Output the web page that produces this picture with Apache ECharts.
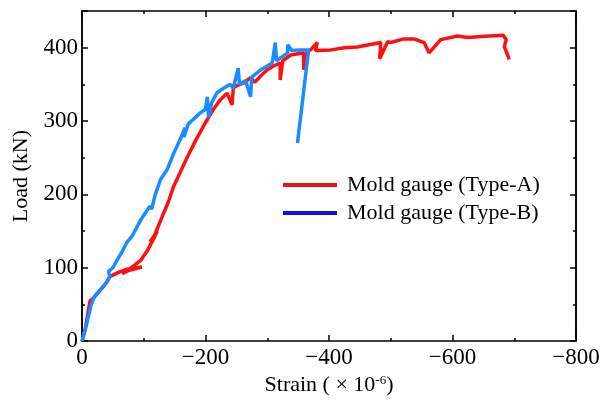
<!DOCTYPE html>
<html>
<head>
<meta charset="utf-8">
<script src="https://cdn.jsdelivr.net/npm/echarts@6/dist/echarts.min.js"></script>
<style>
  html, body { margin: 0; padding: 0; background: #fff; }
  #chart { width: 608px; height: 401px; }
</style>
</head>
<body>
<div id="chart"></div>
<script>
// Mold gauge (Type-A): strain (x10^-6) and load (kN)
const strainA = [0, -5, -10, -13, -18, -21, -30, -40, -45, -50, -60, -73, -97, -75, -65, -80, -95, -107,
  -115, -122, -110, -118, -130, -140, -148, -159, -170, -185, -200, -212, -224, -235, -243, -245, -250,
  -262, -273, -280, -290, -300, -310, -321, -321, -325, -338, -359, -359, -365, -370, -381, -378, -403,
  -425, -446, -465, -484, -482, -495, -500, -521, -538, -554, -562, -581, -608, -625, -641, -660, -682,
  -687, -684, -692];
const loadA = [0, 15, 40, 55, 58, 61, 70, 80, 88, 90, 94, 98, 101, 96, 92, 100, 110, 125,
  138, 150, 135, 145, 170, 190, 210, 230, 250, 275, 298, 315, 329, 338, 322, 345, 348,
  352, 359, 353, 362, 370, 375, 379, 356, 382, 390, 393, 370, 395, 397, 407, 396, 397,
  400, 401, 404, 407, 385, 408, 407, 412, 412, 407, 393, 411, 416, 414, 415, 416, 417,
  411, 401, 384];

// Mold gauge (Type-B)
const strainB = [0, -8, -15, -21, -30, -40, -45, -43, -50, -58, -65, -73, -81, -95, -110, -113, -118,
  -127, -138, -148, -159, -163, -167, -165, -172, -180, -190, -200, -203, -205, -210, -219, -230, -240,
  -245, -253, -255, -265, -273, -275, -290, -308, -313, -315, -333, -333, -340, -354, -367, -370, -349];
const loadB = [0, 25, 50, 62, 70, 80, 88, 95, 100, 112, 122, 135, 143, 165, 184, 180, 198,
  220, 234, 255, 275, 283, 291, 278, 296, 302, 310, 316, 333, 305, 325, 339, 345, 350,
  345, 372, 350, 355, 333, 360, 370, 379, 407, 382, 393, 404, 396, 397, 397, 395, 270];

const xTicks = [0, -200, -400, -600, -800];
const yTicks = [0, 100, 200, 300, 400];

const seriesNames = ['Mold gauge (Type-A)', 'Mold gauge (Type-B)'];

const font = 'Liberation Serif';

function zip(xs, ys) {
  return xs.map((x, i) => [x, ys[i]]);
}

const chart = echarts.init(document.getElementById('chart'));

const lineBlack = { show: true, onZero: false, lineStyle: { color: '#000', width: 1.5 } };
const tickStyle = { color: '#000', width: 1.5 };

// x axis: 0 on the left, -800 on the right
const xBase = {
  type: 'value',
  inverse: true,
  min: -800,
  max: 0,
  interval: 200,
  axisLine: lineBlack,
  splitLine: { show: false },
  axisTick: { show: true, inside: true, length: 6, lineStyle: tickStyle },
  minorTick: { show: true, splitNumber: 2, length: 3, lineStyle: tickStyle },
};

const yBase = {
  type: 'value',
  min: 0,
  max: 450,
  axisLine: lineBlack,
  splitLine: { show: false },
};

const option = {
  animation: false,
  grid: { left: 82, right: 32, top: 11, bottom: 58 },
  legend: {
    orient: 'vertical',
    left: 278,
    top: 169,
    itemWidth: 54,
    itemHeight: 4,
    itemGap: 6,
    textStyle: { fontFamily: font, fontSize: 22, color: '#000', padding: [0, 0, 0, 5] },
    data: [
      { name: seriesNames[0], icon: 'rect', itemStyle: { color: '#ee1111' } },
      { name: seriesNames[1], icon: 'rect', itemStyle: { color: '#1010e0' } },
    ],
  },
  xAxis: [
    Object.assign({}, xBase, {
      position: 'bottom',
      name: 'Strain ( × 10{sup|-6})',
      nameLocation: 'middle',
      nameGap: 31,
      nameTextStyle: {
        fontFamily: font, fontSize: 22, color: '#000',
        rich: { sup: { fontFamily: font, fontSize: 13, verticalAlign: 'top', padding: [0, 0, 9, 0], color: '#000' } },
      },
      axisLabel: {
        margin: 5,
        fontFamily: font,
        fontSize: 23,
        color: '#000',
        formatter: (v) => (xTicks.includes(v) ? (v === 0 ? '0' : '\u2212' + Math.abs(v)) : ''),
      },
    }),
    Object.assign({}, xBase, {
      position: 'top',
      axisLabel: { show: false },
    }),
  ],
  yAxis: [
    Object.assign({}, yBase, {
      position: 'left',
      interval: 100,
      name: 'Load (kN)',
      nameLocation: 'middle',
      nameGap: 48,
      nameTextStyle: { fontFamily: font, fontSize: 22, color: '#000' },
      axisTick: { show: true, inside: true, length: 6, lineStyle: tickStyle },
      axisLabel: {
        margin: 4,
        fontFamily: font,
        fontSize: 23,
        color: '#000',
        formatter: (v) => (yTicks.includes(v) ? String(v) : ''),
      },
    }),
    Object.assign({}, yBase, {
      position: 'left',
      interval: 50,
      axisTick: { show: true, inside: true, length: 3, lineStyle: tickStyle },
      axisLabel: { show: false },
    }),
    Object.assign({}, yBase, {
      position: 'right',
      interval: 100,
      axisTick: { show: true, inside: true, length: 6, lineStyle: tickStyle },
      axisLabel: { show: false },
    }),
    Object.assign({}, yBase, {
      position: 'right',
      interval: 50,
      axisTick: { show: true, inside: true, length: 3, lineStyle: tickStyle },
      axisLabel: { show: false },
    }),
  ],
  series: [
    {
      name: seriesNames[0],
      type: 'line',
      showSymbol: false,
      lineStyle: { color: '#ff1010', width: 3.5 },
      itemStyle: { color: '#ee1111' },
      data: zip(strainA, loadA),
    },
    {
      name: seriesNames[1],
      type: 'line',
      showSymbol: false,
      lineStyle: { color: '#1a8cff', width: 3.5 },
      itemStyle: { color: '#1010e0' },
      data: zip(strainB, loadB),
    },
  ],
};

chart.setOption(option);
</script>
</body>
</html>
